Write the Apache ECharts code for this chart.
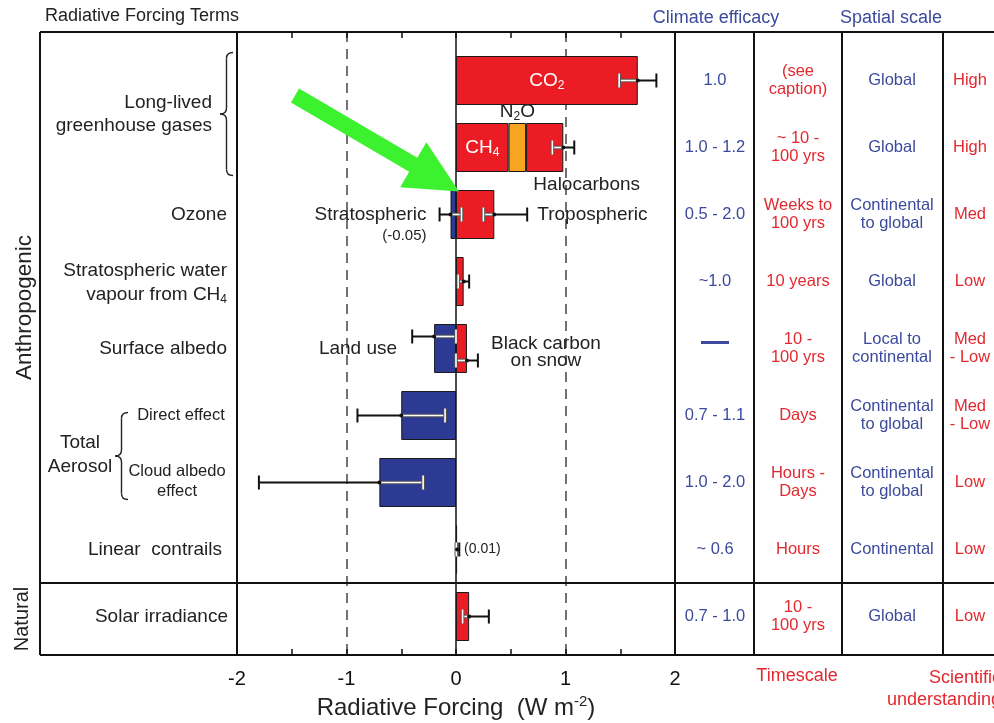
<!DOCTYPE html>
<html>
<head>
<meta charset="utf-8">
<title>Radiative forcing terms</title>
<script src="https://cdn.jsdelivr.net/npm/echarts@6.0.0/dist/echarts.min.js"></script>
<style>
    html, body { margin: 0; padding: 0; background: #fff; }
    #chart { width: 994px; height: 723px; }
</style>
</head>
<body>
<div id="chart"></div>
<script>
// forcing terms, top to bottom
const terms = ['CO2', 'CH4 / N2O / Halocarbons', 'Ozone', 'Stratospheric water vapour', 'Surface albedo',
    'Aerosol direct effect', 'Aerosol cloud albedo effect', 'Linear contrails', 'Solar irradiance'];

// radiative forcing (W m-2), parts of each row are stacked
const warmingMain = [1.66, 0.48, 0.35, 0.07, 0.10, null, null, 0.01, 0.12];
const n2oPart = [null, 0.16, null, null, null, null, null, null, null];
const halocarbonPart = [null, 0.34, null, null, null, null, null, null, null];
const coolingPart = [null, null, -0.05, null, -0.20, -0.50, -0.70, null, null];

// uncertainty ranges, one per error bar
const rangeRow = [0, 1, 2, 2, 3, 4, 4, 5, 6, 7, 8];
const rangeLow = [1.49, 0.88, -0.15, 0.25, 0.02, -0.40, 0.00, -0.90, -1.80, 0.003, 0.06];
const rangeHigh = [1.83, 1.08, 0.05, 0.65, 0.12, 0.00, 0.20, -0.10, -0.30, 0.03, 0.30];

// x axis tick labels
const forcingTicks = [-2, -1, 0, 1, 2];

// left hand labels
const termLabels = ['Long-lived\ngreenhouse gases', 'Ozone', 'Stratospheric water\nvapour from CH{s|4}', 'Surface albedo',
    'Direct effect', 'Cloud albedo\neffect', 'Total\nAerosol', 'Linear  contrails', 'Solar irradiance'];

// table columns
const efficacy = ['1.0', '1.0 - 1.2', '0.5 - 2.0', '~1.0', '—', '0.7 - 1.1', '1.0 - 2.0', '~ 0.6', '0.7 - 1.0'];
const timescale = ['(see\ncaption)', '~ 10 -\n100 yrs', 'Weeks to\n100 yrs', '10 years', '10 -\n100 yrs', 'Days',
    'Hours -\nDays', 'Hours', '10 -\n100 yrs'];
const spatialScale = ['Global', 'Global', 'Continental\nto global', 'Global', 'Local to\ncontinental',
    'Continental\nto global', 'Continental\nto global', 'Continental', 'Global'];
const understanding = ['High', 'High', 'Med', 'Low', 'Med\n- Low', 'Med\n- Low', 'Low', 'Low', 'Low'];

const FONT = '"Liberation Sans", Arial, Helvetica, sans-serif';
const RED = '#ec1c24';
const BLUE = '#2d3a93';
const ORANGE = '#f6a421';
const INK = '#222';
const TXT_BLUE = '#3b4a9c';
const TXT_RED = '#e3282f';

const subStyle = {fontFamily: FONT, fontSize: 12, lineHeight: 8, padding: [10, 0, 0, 0]};
const supStyle = {fontFamily: FONT, fontSize: 15, lineHeight: 8, padding: [0, 0, 13, 0]};

// where the stacked bars of each row end
const rowPos = terms.map((t, i) => (warmingMain[i] || 0) + (n2oPart[i] || 0) + (halocarbonPart[i] || 0));
const rowNeg = terms.map((t, i) => coolingPart[i] || 0);

// land use error bar sits above, black carbon below the row centre
const rangeShift = {5: -12, 6: 12};

function withLabels(values, labels) {
    return values.map((v, i) => labels[i] ? {value: v, label: Object.assign({show: true}, labels[i])} : v);
}

const warmingLabels = {
    0: {position: 'inside', formatter: 'CO{s|2}', color: '#fff'},
    1: {position: 'inside', formatter: 'CH{s|4}', color: '#fff'},
    2: {position: 'right', distance: 43, formatter: 'Tropospheric'},
    4: {position: 'right', distance: 22, formatter: '{c|Black carbon}\n{c|on snow}', lineHeight: 17, offset: [0, 4]},
    7: {position: 'right', distance: 7, formatter: '(0.01)', fontSize: 14}
};
const n2oLabels = {1: {position: 'top', distance: 2, formatter: 'N{s|2}O'}};
const halocarbonLabels = {1: {position: 'bottom', distance: 3, offset: [42, 0], formatter: 'Halocarbons'}};
const coolingLabels = {
    2: {position: 'left', distance: 24, formatter: 'Stratospheric\n{m|(-0.05)}', offset: [0, 10], lineHeight: 22},
    4: {position: 'left', distance: 37, formatter: 'Land use'}
};

const barLabel = {
    show: false,
    color: INK,
    fontSize: 19,
    fontFamily: FONT,
    rich: {
        s: subStyle,
        m: {fontFamily: FONT, fontSize: 15, lineHeight: 20, padding: [0, 0, 0, 0]},
        c: {fontFamily: FONT, fontSize: 19, width: 114, align: 'center', lineHeight: 17}
    }
};

function barSeries(name, values, color, labels) {
    return {
        name: name,
        type: 'bar',
        stack: 'rf',
        xAxisIndex: 2,
        yAxisIndex: 1,
        barWidth: 49,
        itemStyle: {color: color, borderColor: '#1a1a1a', borderWidth: 1},
        label: barLabel,
        data: withLabels(values, labels)
    };
}

function renderRange(params, api) {
    const i = params.dataIndex;
    const row = api.value(0);
    const lo = api.value(1);
    const hi = api.value(2);
    const y = api.coord([0, row])[1] + (rangeShift[i] || 0);
    const px = v => api.coord([v, row])[0];
    const inLo = Math.max(lo, rowNeg[row]);
    const inHi = Math.min(hi, rowPos[row]);
    const black = {stroke: '#111', lineWidth: 2};
    const edge = {stroke: '#555', lineWidth: 3.6};
    const white = {stroke: '#fff', lineWidth: 1.6};
    const children = [];
    const seg = (a, b, st) => children.push({type: 'line', shape: {x1: px(a), y1: y, x2: px(b), y2: y}, style: st});
    const cap = (v, st) => children.push({type: 'line', shape: {x1: px(v), y1: y - 7, x2: px(v), y2: y + 7}, style: st});
    const inside = v => v >= rowNeg[row] && v <= rowPos[row];
    const dots = [];
    if (inLo < inHi) {
        if (lo < inLo) { seg(lo, inLo, black); dots.push(inLo); }
        if (hi > inHi) { seg(inHi, hi, black); dots.push(inHi); }
        seg(inLo, inHi, edge);
        seg(inLo, inHi, white);
    } else {
        seg(lo, hi, black);
    }
    [lo, hi].forEach(v => {
        if (inside(v)) {
            cap(v, edge);
            cap(v, white);
        } else {
            cap(v, black);
        }
    });
    dots.forEach(v => children.push({type: 'circle', shape: {cx: px(v), cy: y, r: 2}, style: {fill: '#111'}}));
    return {type: 'group', children: children};
}

const chart = echarts.init(document.getElementById('chart'));

const transparent = 'rgba(0,0,0,0)';
const option = {
    animation: false,
    textStyle: {fontFamily: FONT},
    grid: [
        {left: 237, top: 32, width: 438, height: 623, outerBoundsMode: 'none'},
        {left: 237, top: 47, width: 438, height: 603, outerBoundsMode: 'none'}
    ],
    xAxis: [
        {
            gridIndex: 0,
            type: 'value',
            min: -2,
            max: 2,
            interval: 0.5,
            position: 'bottom',
            axisLine: {show: false, onZero: false},
            axisTick: {inside: true, length: 6, lineStyle: {color: '#111', width: 1.5}},
            axisLabel: {
                formatter: v => forcingTicks.indexOf(v) >= 0 ? String(v) : '',
                fontSize: 20,
                color: '#111',
                margin: 14
            },
            splitLine: {
                show: true,
                lineStyle: {
                    type: [10, 7],
                    width: 1.5,
                    color: [transparent, transparent, '#444', transparent, transparent,
                        transparent, '#444', transparent, transparent]
                }
            },
            name: 'Radiative Forcing  (W m{sup|-2})',
            nameLocation: 'middle',
            nameGap: 40,
            nameTextStyle: {fontSize: 24, color: INK, rich: {sup: supStyle}}
        },
        {
            gridIndex: 0,
            type: 'value',
            min: -2,
            max: 2,
            interval: 0.5,
            position: 'top',
            axisLine: {show: false, onZero: false},
            axisTick: {inside: true, length: 6, lineStyle: {color: '#111', width: 1.5}},
            axisLabel: {show: false},
            splitLine: {show: false}
        },
        {gridIndex: 1, type: 'value', min: -2, max: 2, show: false}
    ],
    yAxis: [
        {
            gridIndex: 0,
            type: 'value',
            min: 0,
            max: 1,
            axisLine: {show: true, onZero: true, lineStyle: {color: '#111', width: 1.5}},
            axisTick: {show: false},
            axisLabel: {show: false},
            splitLine: {show: false}
        },
        {gridIndex: 1, type: 'category', data: terms, inverse: true, show: false}
    ],
    series: [
        barSeries('warming', warmingMain, RED, warmingLabels),
        barSeries('N2O', n2oPart, ORANGE, n2oLabels),
        barSeries('Halocarbons', halocarbonPart, RED, halocarbonLabels),
        barSeries('cooling', coolingPart, BLUE, coolingLabels),
        {
            name: 'range',
            type: 'custom',
            xAxisIndex: 2,
            yAxisIndex: 1,
            z: 5,
            renderItem: renderRange,
            encode: {x: [1, 2], y: 0},
            data: rangeRow.map((r, i) => [r, rangeLow[i], rangeHigh[i]])
        }
    ]
};
chart.setOption(option);

// layout pieces positioned from the bar grid
const rowY = r => {
    const a = Math.floor(r);
    const ya = chart.convertToPixel({gridIndex: 1}, [0, a])[1];
    if (r === a) return ya;
    const yb = chart.convertToPixel({gridIndex: 1}, [0, a + 1])[1];
    return ya + (yb - ya) * (r - a);
};
const xAt = v => chart.convertToPixel({gridIndex: 1}, [v, 0])[0];

const FRAME_TOP = 32;
const FRAME_BOTTOM = 655;
const FRAME_LEFT = 40;
const RIGHT_EDGE = 994;
const columnLines = [237, 675, 754, 842, 943];
const columnCentres = [715, 798, 892, 970];

const gfx = [];
const line = (x1, y1, x2, y2, w, color) => gfx.push({
    type: 'line', silent: true, z: 50,
    shape: {x1: x1, y1: y1, x2: x2, y2: y2},
    style: {stroke: color || '#111', lineWidth: w || 2}
});
const text = (x, y, str, style) => gfx.push({
    type: 'text', silent: true, z: 60, x: x, y: y,
    style: Object.assign({
        text: str, fill: INK, fontFamily: FONT, fontSize: 19, lineHeight: 23,
        align: 'right', verticalAlign: 'middle', rich: {s: subStyle}
    }, style)
});

// frame and table grid
const naturalTop = (rowY(7) + rowY(8)) / 2;
line(FRAME_LEFT, FRAME_TOP, RIGHT_EDGE, FRAME_TOP);
line(FRAME_LEFT, FRAME_BOTTOM, RIGHT_EDGE, FRAME_BOTTOM);
line(FRAME_LEFT, naturalTop, RIGHT_EDGE, naturalTop);
line(FRAME_LEFT, FRAME_TOP, FRAME_LEFT, FRAME_BOTTOM);
columnLines.forEach(x => line(x, FRAME_TOP, x, FRAME_BOTTOM));

// curly braces
function brace(xTip, xArm, y1, y2) {
    const xm = (xTip + xArm) / 2;
    const ym = (y1 + y2) / 2;
    const r = 6;
    const st = {stroke: INK, lineWidth: 1.4, fill: null};
    const curve = (x1, y1_, cx, cy, x2, y2_) => gfx.push({
        type: 'bezierCurve', silent: true, z: 50,
        shape: {x1: x1, y1: y1_, cpx1: cx, cpy1: cy, x2: x2, y2: y2_}, style: st
    });
    curve(xArm, y1, xm, y1, xm, y1 + r);
    line(xm, y1 + r, xm, ym - r, 1.4, INK);
    curve(xm, ym - r, xm, ym, xTip, ym);
    curve(xTip, ym, xm, ym, xm, ym + r);
    line(xm, ym + r, xm, y2 - r, 1.4, INK);
    curve(xm, y2 - r, xm, y2, xArm, y2);
}
brace(220, 233, rowY(0) - 28, rowY(1) + 28);
brace(115, 128, rowY(5) - 3, rowY(6) + 17);

// left labels
text(212, rowY(0.5), termLabels[0]);
text(227, rowY(2), termLabels[1]);
text(227, rowY(3) + 1, termLabels[2], {lineHeight: 24});
text(227, rowY(4), termLabels[3]);
text(181, rowY(5), termLabels[4], {align: 'center', fontSize: 16.5});
text(177, rowY(6) - 1, termLabels[5], {align: 'center', fontSize: 16.5, lineHeight: 20});
text(80, rowY(5.5) + 6, termLabels[6], {align: 'center', lineHeight: 24});
text(222, rowY(7), termLabels[7]);
text(228, rowY(8), termLabels[8]);

text(25, (FRAME_TOP + naturalTop) / 2, 'Anthropogenic', {align: 'center', fontSize: 22.5});
gfx[gfx.length - 1].rotation = Math.PI / 2;
text(22, (naturalTop + FRAME_BOTTOM) / 2, 'Natural', {align: 'center', fontSize: 20});
gfx[gfx.length - 1].rotation = Math.PI / 2;

// headers
text(45, 16, 'Radiative Forcing Terms', {align: 'left', fontSize: 18});
text(716, 18, 'Climate efficacy', {align: 'center', fontSize: 18, fill: TXT_BLUE});
text(891, 18, 'Spatial scale', {align: 'center', fontSize: 18, fill: TXT_BLUE});
text(797, 676, 'Timescale', {align: 'center', fontSize: 18, fill: TXT_RED});
text(1001, 689, 'Scientific\nunderstanding', {align: 'right', fontSize: 18, lineHeight: 22, fill: TXT_RED});

// table
const tableStyle = {align: 'center', fontSize: 16.5, lineHeight: 18.5};
terms.forEach((t, i) => {
    const y = rowY(i);
    if (efficacy[i] === '—') {
        line(columnCentres[0] - 14, y - 6, columnCentres[0] + 14, y - 6, 3, TXT_BLUE);
    } else {
        text(columnCentres[0], y, efficacy[i], Object.assign({fill: TXT_BLUE}, tableStyle));
    }
    text(columnCentres[1], y, timescale[i], Object.assign({fill: TXT_RED}, tableStyle));
    text(columnCentres[2], y, spatialScale[i], Object.assign({fill: TXT_BLUE}, tableStyle));
    text(columnCentres[3], y, understanding[i], Object.assign({fill: TXT_RED}, tableStyle));
});

// green arrow pointing at the ozone bar
const tip = [xAt(0) + 3, rowY(2) - 23];
const tail = [tip[0] - 164, tip[1] - 96];
const len = Math.hypot(tip[0] - tail[0], tip[1] - tail[1]);
const ux = (tip[0] - tail[0]) / len;
const uy = (tip[1] - tail[1]) / len;
const nx = -uy;
const ny = ux;
const base = [tip[0] - ux * 53, tip[1] - uy * 53];
const pt = (p, w) => [p[0] + nx * w, p[1] + ny * w];
gfx.push({
    type: 'polygon', silent: true, z: 100,
    shape: {points: [pt(tail, 8), pt(base, 8), pt(base, 26), tip, pt(base, -26), pt(base, -8), pt(tail, -8)]},
    style: {fill: '#3cf22f'}
});

chart.setOption({graphic: gfx});
</script>
</body>
</html>
